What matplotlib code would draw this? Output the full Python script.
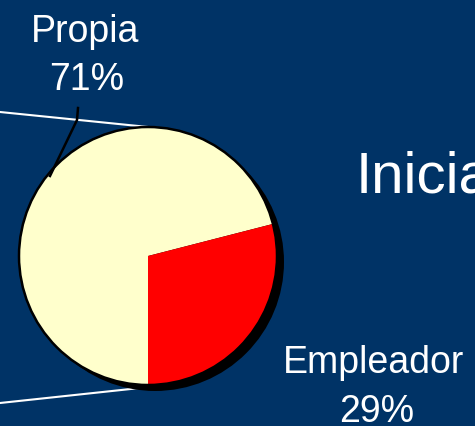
import matplotlib
matplotlib.use("Agg")
import matplotlib.pyplot as plt
from matplotlib.patches import Circle

categories = ["Propia", "Empleador"]
values = [71, 29]
pct_labels = ["71%", "29%"]
title_text = "Inicia"

BG = "#003366"
COLORS = ["#FFFFCC", "#FF0000"]
W, H = 475, 427

plt.rcParams['font.family'] = ['Liberation Sans', 'DejaVu Sans']
fig = plt.figure(figsize=(W / 100, H / 100), dpi=100, facecolor=BG)
ax = fig.add_axes([0, 0, 1, 1])
ax.set_facecolor(BG)
ax.set_xlim(0, W)
ax.set_ylim(0, H)
ax.axis("off")

cx, cy, r = 148, H - 257, 129

# white decorative lines
ax.plot([0, 158], [H - 113, H - 129], color="white", lw=1.5, zorder=1)
ax.plot([0, 140], [H - 404, H - 389], color="white", lw=1.5, zorder=1)

# shadow
ax.add_patch(Circle((cx + 7, cy - 6), r, facecolor="black", edgecolor="none", zorder=2))

wedges, _ = ax.pie(values, colors=COLORS, startangle=14.4, counterclock=True,
                   center=(cx, cy), radius=r, frame=True,
                   wedgeprops=dict(edgecolor="none", linewidth=0))
for w in wedges:
    w.set_zorder(3)
ax.add_patch(Circle((cx, cy), r, facecolor="none", edgecolor="black", lw=1.8, zorder=4))
ax.set_xlim(0, W)
ax.set_ylim(0, H)
ax.set_aspect("auto")
ax.axis("off")

# leader line for Propia
ax.plot([78, 77, 50], [H - 109, H - 121, H - 177], color="black", lw=1.8, zorder=5)

ax.text(85, H - 42, categories[0], color="white", fontsize=27, ha="center", va="baseline")
ax.text(87, H - 90, pct_labels[0], color="white", fontsize=27, ha="center", va="baseline")
ax.text(374, H - 373, categories[1], color="white", fontsize=27, ha="center", va="baseline")
ax.text(377, H - 422, pct_labels[1], color="white", fontsize=27, ha="center", va="baseline")
ax.text(356, H - 193, title_text, color="white", fontsize=42, ha="left", va="baseline")

fig.savefig("out.png", dpi=100, facecolor=BG)
